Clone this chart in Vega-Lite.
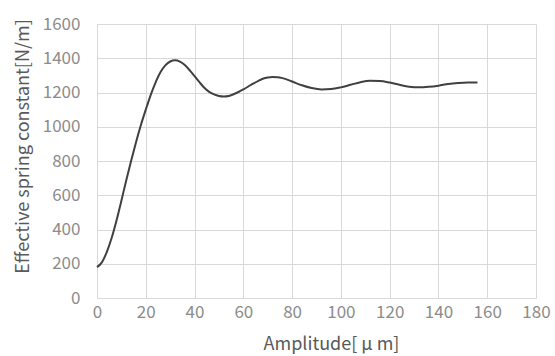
{
  "$schema": "https://vega.github.io/schema/vega-lite/v6.json",
  "autosize": "none",
  "width": 439,
  "height": 274,
  "padding": {"left": 97, "top": 24, "right": 19, "bottom": 58},
  "background": "white",
  "config": {
    "view": {"stroke": null},
    "font": "Noto Sans CJK JP"
  },
  "data": {
    "values": [
      {"amp": 0, "k": 180}, {"amp": 2, "k": 208}, {"amp": 4, "k": 268}, {"amp": 6, "k": 350},
      {"amp": 8, "k": 452}, {"amp": 10, "k": 568}, {"amp": 12, "k": 688}, {"amp": 14, "k": 802},
      {"amp": 16, "k": 910}, {"amp": 18, "k": 1010}, {"amp": 20, "k": 1100}, {"amp": 22, "k": 1185},
      {"amp": 24, "k": 1258}, {"amp": 26, "k": 1318}, {"amp": 28, "k": 1358}, {"amp": 30, "k": 1381},
      {"amp": 32, "k": 1388}, {"amp": 34, "k": 1380}, {"amp": 36, "k": 1360}, {"amp": 38, "k": 1330},
      {"amp": 40, "k": 1295}, {"amp": 42, "k": 1260}, {"amp": 44, "k": 1228}, {"amp": 46, "k": 1204},
      {"amp": 48, "k": 1189}, {"amp": 50, "k": 1180}, {"amp": 52, "k": 1177}, {"amp": 54, "k": 1180},
      {"amp": 56, "k": 1190}, {"amp": 58, "k": 1203}, {"amp": 60, "k": 1218}, {"amp": 62, "k": 1235},
      {"amp": 64, "k": 1252}, {"amp": 66, "k": 1267}, {"amp": 68, "k": 1280}, {"amp": 70, "k": 1287},
      {"amp": 72, "k": 1290}, {"amp": 74, "k": 1289}, {"amp": 76, "k": 1284}, {"amp": 78, "k": 1275},
      {"amp": 80, "k": 1264}, {"amp": 84, "k": 1242}, {"amp": 88, "k": 1226}, {"amp": 92, "k": 1218},
      {"amp": 96, "k": 1220}, {"amp": 100, "k": 1230}, {"amp": 104, "k": 1245}, {"amp": 108, "k": 1260},
      {"amp": 112, "k": 1268}, {"amp": 116, "k": 1267}, {"amp": 120, "k": 1258}, {"amp": 124, "k": 1245},
      {"amp": 128, "k": 1234}, {"amp": 132, "k": 1230}, {"amp": 136, "k": 1233}, {"amp": 140, "k": 1240},
      {"amp": 144, "k": 1250}, {"amp": 148, "k": 1256}, {"amp": 152, "k": 1259}, {"amp": 156, "k": 1258}
    ]
  },
  "mark": {"type": "line", "interpolate": "monotone", "color": "#404040", "strokeWidth": 2},
  "encoding": {
    "x": {
      "field": "amp", "type": "quantitative",
      "scale": {"domain": [0, 180], "nice": false, "zero": false},
      "axis": {
        "values": [0, 20, 40, 60, 80, 100, 120, 140, 160, 180],
        "format": "d",
        "title": "Amplitude[ μ m]",
        "domain": false, "ticks": false, "labelFlush": false, "labelOverlap": false,
        "grid": true, "gridColor": "#d9d9d9", "gridWidth": 1,
        "labelFontSize": 17, "labelColor": "#8c8c8c", "labelPadding": 6,
        "labelFont": "Noto Sans CJK JP",
        "titleFontSize": 18, "titleFontWeight": "normal", "titleColor": "#595959",
        "titleFont": "Noto Sans CJK JP", "titlePadding": 15, "titleX": 234
      }
    },
    "y": {
      "field": "k", "type": "quantitative",
      "scale": {"domain": [0, 1600], "nice": false},
      "axis": {
        "values": [0, 200, 400, 600, 800, 1000, 1200, 1400, 1600],
        "format": "d",
        "title": "Effective spring constant[N/m]",
        "domain": false, "ticks": false, "labelFlush": false, "labelOverlap": false,
        "grid": true, "gridColor": "#d9d9d9", "gridWidth": 1,
        "labelFontSize": 17, "labelColor": "#8c8c8c", "labelPadding": 17,
        "labelFont": "Noto Sans CJK JP",
        "titleFontSize": 18, "titleFontWeight": "normal", "titleColor": "#595959",
        "titleFont": "Noto Sans CJK JP", "titlePadding": 10, "titleY": 122
      }
    }
  }
}
